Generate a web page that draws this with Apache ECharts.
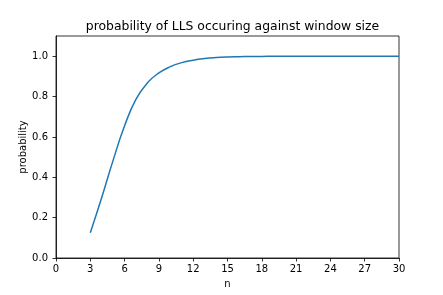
<!DOCTYPE html>
<html><head><meta charset="utf-8">
<script src="https://cdn.jsdelivr.net/npm/echarts@6/dist/echarts.min.js"></script>
<style>html,body{margin:0;padding:0;background:#fff}#c{width:443px;height:295px}</style>
</head><body><div id="c"></div>
<script>
var nValues = [3,4,5,6,7,8,9,10,11,12,13,14,15,16,17,18,19,20,21,22,23,24,25,26,27,28,29,30];
var probValues = [0.125,0.30,0.485,0.655,0.787,0.868,0.917,0.948,0.968,0.98,0.988,0.993,0.996,0.9975,0.9985,0.999,0.9994,0.9996,0.9997,0.9998,0.9999,0.9999,1.0,1.0,1.0,1.0,1.0,1.0];
var xTicks = [0,3,6,9,12,15,18,21,24,27,30];
var yTicks = [0,0.2,0.4,0.6,0.8,1.0];

var font = 'DejaVu Sans';
var chart = echarts.init(document.getElementById('c'), null, {renderer:'canvas'});
chart.setOption({
  animation:false,
  title:{text:'probability of LLS occuring against window size', left:227.5, textAlign:'center', top:16,
    textStyle:{fontFamily:font, fontSize:12.4, fontWeight:'normal', color:'#000'}},
  grid:{left:56, right:44, top:36, bottom:37, show:true, borderColor:'#000', borderWidth:0.8, backgroundColor:'transparent'},
  xAxis:{type:'value', min:0, max:30, interval:3,
    name:'n', nameLocation:'middle', nameGap:21, nameMoveOverlap:false, nameTextStyle:{fontFamily:font, fontSize:10, color:'#000'},
    axisLine:{show:true, lineStyle:{color:'#000', width:0.8}},
    axisTick:{show:true, length:3.5, lineStyle:{color:'#000', width:0.8}, customValues:xTicks},
    axisLabel:{fontFamily:font, fontSize:10, color:'#000', margin:6, customValues:xTicks},
    splitLine:{show:false}},
  yAxis:{type:'value', min:0, max:1.1, interval:0.2,
    name:'probability', nameLocation:'middle', nameGap:28, nameMoveOverlap:false, nameTextStyle:{fontFamily:font, fontSize:10, color:'#000'},
    axisLine:{show:true, lineStyle:{color:'#000', width:0.8}},
    axisTick:{show:true, length:3.5, lineStyle:{color:'#000', width:0.8}, customValues:yTicks},
    axisLabel:{fontFamily:font, fontSize:10, color:'#000', margin:8, customValues:yTicks,
      formatter:function(v){return v.toFixed(1);}},
    splitLine:{show:false}},
  series:[{type:'line', data:nValues.map(function(n,i){return [n, probValues[i]];}),
    showSymbol:false, smooth:0.5,
    lineStyle:{color:'#1f77b4', width:1.5}, itemStyle:{color:'#1f77b4'}}]
});
</script></body></html>
